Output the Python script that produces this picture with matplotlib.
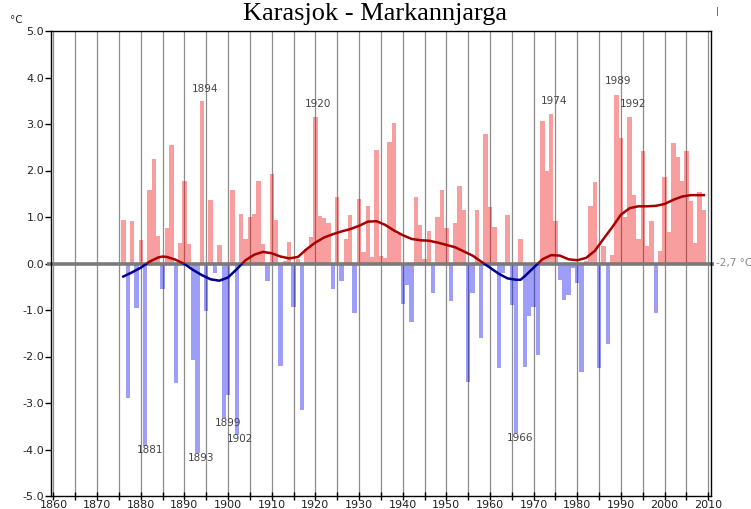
import matplotlib
matplotlib.use("Agg")
import matplotlib.pyplot as plt
from matplotlib.patches import Rectangle
import numpy as np

plt.rcParams['axes.unicode_minus'] = False
plt.rcParams['font.family'] = ['DejaVu Sans']

# ---------------- data ----------------
years = list(range(1876, 2010))
anomalies = [
    0.94, -2.90, 0.91, -0.95, 0.50, -3.92, 1.57, 2.24, 0.60, -0.55,   # 1876-1885
    0.76, 2.55, -2.58, 0.45, 1.78, 0.42, -2.08, -4.08, 3.49, -1.02,   # 1886-1895
    1.37, -0.20, 0.40, -3.32, -2.82, 1.59, -3.68, 1.06, 0.53, 0.99,   # 1896-1905
    1.06, 1.77, 0.42, -0.37, 1.93, 0.94, -2.21, 0.05, 0.47, -0.94,    # 1906-1915
    0.10, -3.16, 0.31, 0.58, 3.15, 1.03, 0.98, 0.88, -0.55, 1.42,     # 1916-1925
    -0.37, 0.53, 1.04, -1.06, 1.39, 0.25, 1.24, 0.15, 2.45, 0.17,     # 1926-1935
    0.12, 2.61, 3.02, 0.63, -0.88, -0.46, -1.25, 1.42, 0.83, 0.10,    # 1936-1945
    0.70, -0.63, 1.01, 1.57, 0.76, -0.80, 0.88, 1.66, 1.15, -2.55,    # 1946-1955
    -0.63, 1.15, -1.60, 2.78, 1.21, 0.79, -2.24, -0.20, 1.04, -0.90,  # 1956-1965
    -3.65, 0.53, -2.22, -1.13, -0.93, -1.96, 3.06, 1.99, 3.22, 0.92,  # 1966-1975
    -0.35, -0.79, -0.68, -0.10, -0.42, -2.34, 0.05, 1.23, 1.75, -2.24,  # 1976-1985
    0.37, -1.74, 0.19, 3.62, 2.70, 0.99, 3.15, 1.48, 0.53, 2.42,      # 1986-1995
    0.37, 0.91, -1.06, 0.26, 1.87, 0.67, 2.60, 2.29, 1.77, 2.43,      # 1996-2005
    1.35, 0.44, 1.53, 1.15,                                           # 2006-2009
]

curve_years = [1876, 1878, 1880, 1882, 1884, 1885, 1886, 1888, 1890, 1892,
               1894, 1896, 1898, 1900, 1902, 1904, 1906, 1908, 1910, 1912,
               1914, 1916, 1918, 1920, 1922, 1924, 1926, 1928, 1930, 1932,
               1934, 1936, 1938, 1940, 1942, 1944, 1946, 1948, 1950, 1952,
               1954, 1956, 1958, 1960, 1962, 1964, 1966, 1967, 1968, 1970,
               1972, 1974, 1976, 1978, 1980, 1982, 1984, 1986, 1988, 1990,
               1992, 1994, 1996, 1998, 2000, 2002, 2004, 2006, 2008, 2009]
curve_values = [-0.28, -0.19, -0.09, 0.04, 0.13, 0.15, 0.14, 0.08, -0.01, -0.14,
                -0.25, -0.34, -0.37, -0.30, -0.12, 0.07, 0.19, 0.25, 0.22, 0.15,
                0.11, 0.14, 0.31, 0.45, 0.56, 0.63, 0.69, 0.74, 0.81, 0.90,
                0.91, 0.83, 0.71, 0.61, 0.53, 0.50, 0.49, 0.45, 0.40, 0.35,
                0.26, 0.17, 0.04, -0.09, -0.22, -0.32, -0.35, -0.35, -0.27, -0.09,
                0.09, 0.18, 0.17, 0.09, 0.07, 0.12, 0.27, 0.53, 0.78, 1.05,
                1.19, 1.23, 1.23, 1.24, 1.28, 1.37, 1.44, 1.47, 1.47, 1.47]

label_years = ["1894", "1920", "1974", "1989", "1992", "1881", "1893", "1899", "1902", "1966"]
y_ticks = [-5.0, -4.0, -3.0, -2.0, -1.0, 0.0, 1.0, 2.0, 3.0, 4.0, 5.0]
x_ticks = list(range(1860, 2011, 10))
title = "Karasjok - Markannjarga"
baseline_text = "-2,7 °C"
unit_text = "°C"

# ---------------- layout ----------------
label_pos = {  # (x in years, y in °C) for the annotations
    "1894": (1894.7, 3.75), "1920": (1920.6, 3.43), "1974": (1974.7, 3.49),
    "1989": (1989.3, 3.92), "1992": (1992.7, 3.43), "1881": (1882.1, -4.01),
    "1893": (1893.8, -4.18), "1899": (1900.0, -3.43), "1902": (1902.7, -3.77),
    "1966": (1966.9, -3.75),
}

W, H = 751, 509
fig = plt.figure(figsize=(W / 100, H / 100), dpi=100)
ax = fig.add_axes([51 / W, 1 - 496 / H, 660 / W, 465 / H])
ax.set_xlim(1859.43, 2010.63)
ax.set_ylim(-5, 5)

# vertical grid every 5 years
for gx in range(1860, 2011, 5):
    ax.axvline(gx, color='#8c8c8c', lw=0.9, zorder=0)

vals = np.array(anomalies)
colors = ['#f00000' if v >= 0 else '#0000f0' for v in vals]
ax.bar(years, vals, width=1.0, color=colors, alpha=0.38, linewidth=0, zorder=1)

# zero line (thick grey), extending slightly past the axes
ax.plot([-0.006, 1.004], [0.5, 0.5], transform=ax.transAxes, color='#7a7a7a',
        lw=2.6, clip_on=False, zorder=3, solid_capstyle='butt')

# smoothed curve: red above zero, navy below
top_clip = Rectangle((1800, 0), 300, 10, transform=ax.transData)
bot_clip = Rectangle((1800, -10), 300, 10, transform=ax.transData)
l1, = ax.plot(curve_years, curve_values, color='#a80000', lw=1.8, zorder=4)
l1.set_clip_path(top_clip)
l2, = ax.plot(curve_years, curve_values, color='#000090', lw=1.8, zorder=4)
l2.set_clip_path(bot_clip)

# annotations
for lab in label_years:
    x, y = label_pos[lab]
    ax.text(x, y, lab, ha='center', va='center', fontsize=7.5, color='#444444', zorder=5)

# axes styling
for s in ax.spines.values():
    s.set_color('black')
    s.set_linewidth(1.0)
    s.set_zorder(6)
ax.set_yticks(y_ticks)
ax.set_yticklabels([f"{v:.1f}" for v in y_ticks])
ax.set_xticks(list(range(1860, 2011, 5)))
ax.set_xticklabels([str(t) if t in x_ticks else "" for t in range(1860, 2011, 5)])
ax.tick_params(axis='y', direction='out', length=4, width=1, labelsize=8,
               colors='black', labelcolor='#222222', pad=1)
ax.tick_params(axis='x', direction='inout', length=6, width=1, labelsize=8,
               colors='black', labelcolor='#222222', pad=0)

fig.text(375 / W, 1 - 20 / H, title, ha='center', va='baseline',
         fontsize=19, family='Liberation Serif', color='black')
fig.text(716 / W, 1 - 12 / H, "|", ha='left', va='center', fontsize=6, color='#444444')
fig.text(10 / W, 1 - 20 / H, unit_text, ha='left', va='center', fontsize=7.5, color='#222222')
fig.text(716 / W, 1 - 263 / H, baseline_text, ha='left', va='center', fontsize=7.5, color='#888888')

fig.savefig("out.png", dpi=100)
